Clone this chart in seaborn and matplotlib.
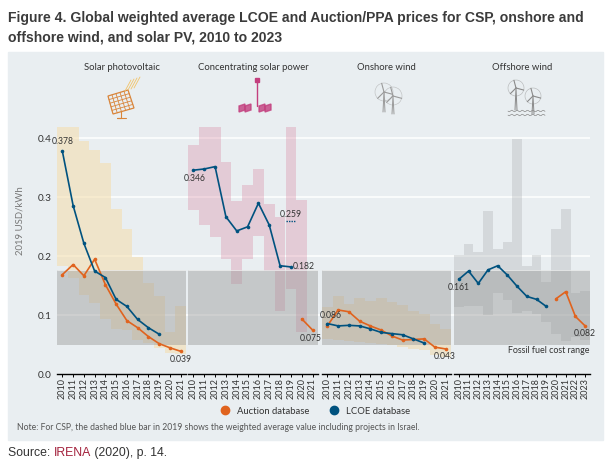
import numpy as np
import pandas as pd
import matplotlib
matplotlib.use("Agg")
import matplotlib.pyplot as plt
import seaborn as sns
from matplotlib.patches import Rectangle, Polygon
from matplotlib.lines import Line2D

sns.set_style("white")
plt.rcParams['font.family'] = ['Lato', 'DejaVu Sans']

W, H = 610, 463

# Daten (2019 USD/kWh)
nan = np.nan
pv_years = list(range(2010, 2022))
pv_lcoe = [0.378, 0.286, 0.222, 0.175, 0.164, 0.127, 0.115, 0.093, 0.079, 0.068]
pv_auction = [0.169, 0.186, 0.167, 0.195, 0.152, 0.119, 0.091, 0.079, 0.064, 0.052, 0.045, 0.039]
pv_hi = [0.419, 0.419, 0.396, 0.380, 0.358, 0.280, 0.247, 0.199, 0.154, 0.132, 0.071, 0.115]
pv_lo = [0.183, 0.163, 0.134, 0.121, 0.094, 0.077, 0.075, 0.058, 0.053, 0.044, 0.036, 0.034]

csp_years = list(range(2010, 2022))
csp_lcoe = [0.346, 0.348, 0.352, 0.267, 0.243, 0.250, 0.290, 0.253, 0.184, 0.182]
csp_auction = [0.094, 0.075]          # 2020, 2021
csp_israel_2019 = 0.259
csp_hi = [0.389, 0.419, 0.419, 0.359, 0.293, 0.321, 0.348, 0.289, 0.267, 0.419, 0.296, nan]
csp_lo = [0.278, 0.253, 0.233, 0.195, 0.153, 0.195, 0.235, 0.175, 0.107, 0.144, 0.072, nan]

on_years = list(range(2010, 2022))
on_lcoe = [0.086, 0.082, 0.083, 0.082, 0.077, 0.071, 0.069, 0.067, 0.060, 0.053]
on_auction = [0.082, 0.109, 0.106, 0.090, 0.082, 0.075, 0.065, 0.058, 0.059, 0.060, 0.046, 0.043]
on_hi = [0.114, 0.133, 0.120, 0.129, 0.125, 0.130, 0.123, 0.118, 0.108, 0.103, 0.085, 0.076]
on_lo = [0.060, 0.058, 0.057, 0.055, 0.053, 0.051, 0.049, 0.047, 0.043, 0.041, 0.032, 0.029]

off_years = list(range(2010, 2024))
off_lcoe = [0.161, 0.175, 0.154, 0.177, 0.184, 0.168, 0.149, 0.132, 0.127, 0.115]
off_auction = [0.128, 0.140, 0.098, 0.082]   # 2020-2023
off_hi = [0.203, 0.221, 0.208, 0.276, 0.213, 0.225, 0.399, 0.184, 0.202, 0.156, 0.246, 0.280, 0.137, 0.141]
off_lo = [0.114, 0.115, 0.115, 0.101, 0.138, 0.126, 0.104, 0.108, 0.103, 0.089, 0.068, 0.056, 0.064, 0.058]

fossil_range = (0.05, 0.177)
titles = ["Solar photovoltaic", "Concentrating solar power", "Onshore wind", "Offshore wind"]

BLUE = "#00527f"
ORANGE = "#e0631e"
TXT = "#333333"


def fx(px):
    return px / W


def fy(py):
    return 1 - py / H


fig = plt.figure(figsize=(6.1, 4.63), dpi=100)
fig.patch.set_facecolor("white")

# grauer Hintergrundkasten
fig.patches.append(Rectangle((fx(8), fy(440)), (603 - 8) / W, (440 - 52) / H,
                             transform=fig.transFigure, color="#e9eef1", zorder=-5))

y0, y1 = 374.3, 114.7    # pixel fuer 0 und 0.44
ymax = 0.44

# Gitterlinien ueber alle Paneele
bg = fig.add_axes([fx(57), fy(y0), (590 - 57) / W, (y0 - y1) / H], zorder=-1)
bg.set_xlim(0, 1)
bg.set_ylim(0, ymax)
bg.axis("off")
for v in [0.1, 0.2, 0.3, 0.4]:
    bg.axhline(v, color="white", lw=1.1)

panels = [
    dict(x=(57, 186), years=pv_years, hi=pv_hi, lo=pv_lo, band="#f5dcaa", alpha=0.55,
         lcoe=pv_lcoe, auc=pv_auction, auc0=0),
    dict(x=(188, 318), years=csp_years, hi=csp_hi, lo=csp_lo, band="#d8829f", alpha=0.32,
         lcoe=csp_lcoe, auc=csp_auction, auc0=10),
    dict(x=(322, 451), years=on_years, hi=on_hi, lo=on_lo, band="#f0d49c", alpha=0.45,
         lcoe=on_lcoe, auc=on_auction, auc0=0),
    dict(x=(454, 590), years=off_years, hi=off_hi, lo=off_lo, band="#a8abae", alpha=0.32,
         lcoe=off_lcoe, auc=off_auction, auc0=10),
]

axes = []
for i, p in enumerate(panels):
    xa, xb = p["x"]
    ax = fig.add_axes([fx(xa), fy(y0), (xb - xa) / W, (y0 - y1) / H])
    ax.set_facecolor("none")
    n = len(p["years"])
    idx = np.arange(n)
    hi = np.array(p["hi"])
    lo = np.array(p["lo"])
    ax.bar(idx, hi - lo, bottom=lo, width=1.0, color=p["band"], alpha=p["alpha"], lw=0, zorder=1)
    ax.axhspan(fossil_range[0], fossil_range[1], color="#9a9a9a", alpha=0.45, lw=0, zorder=2)
    ax.axhline(fossil_range[1], color="white", lw=0.7, alpha=0.6, zorder=2.1)

    lx = idx[:len(p["lcoe"])]
    sns.lineplot(x=lx, y=p["lcoe"], ax=ax, color=BLUE, lw=1.2, marker="o", markersize=2.6,
                 markeredgewidth=0, zorder=4)
    ax_ = idx[p["auc0"]:p["auc0"] + len(p["auc"])]
    sns.lineplot(x=ax_, y=p["auc"], ax=ax, color=ORANGE, lw=1.2, marker="o", markersize=2.6,
                 markeredgewidth=0, zorder=3)

    ax.set_xlim(-0.5, n - 0.5)
    ax.set_ylim(0, ymax)
    ax.set_xticks(idx)
    ax.set_xticklabels(p["years"], rotation=90, fontsize=6.5, color=TXT)
    ax.tick_params(axis="x", length=2, width=0.7, pad=1, color="black", bottom=True)
    ax.set_yticks([0, 0.1, 0.2, 0.3, 0.4])
    if i == 0:
        ax.set_yticklabels(["0.0", "0.1", "0.2", "0.3", "0.4"], fontsize=7.2, color=TXT)
        ax.tick_params(axis="y", length=0, pad=4)
    else:
        ax.tick_params(axis="y", left=False, labelleft=False)
    for s in ["top", "right", "left"]:
        ax.spines[s].set_visible(False)
    ax.spines["bottom"].set_color("black")
    ax.spines["bottom"].set_linewidth(1.0)
    ax.set_xlabel("")
    ax.set_ylabel("")
    fig.text(fx((xa + xb) / 2), fy(68), titles[i], ha="center", va="center",
             fontsize=6.8, color=TXT)
    axes.append(ax)

# Wertebeschriftungen
lab = dict(fontsize=6.2, color=TXT, textcoords="offset points")
axes[0].annotate("0.378", (0, 0.378), xytext=(0, 4), ha="center", va="bottom", **lab)
axes[0].annotate("0.039", (11, 0.039), xytext=(0, -3), ha="center", va="top", **lab)
axes[1].annotate("0.346", (0, 0.346), xytext=(1, -2.5), ha="center", va="top", **lab)
axes[1].annotate("0.182", (9, 0.182), xytext=(1.5, 0), ha="left", va="center", **lab)
axes[1].annotate("0.075", (11, 0.075), xytext=(-1, -2.5), ha="center", va="top", **lab)
axes[1].hlines(csp_israel_2019, 9 - 0.45, 9 + 0.45, color=BLUE, lw=1.0, linestyles=(0, (1, 0.8)), zorder=4)
axes[1].annotate("0.259", (9, csp_israel_2019), xytext=(0, 2), ha="center", va="bottom", **lab)
axes[2].annotate("0.086", (0, 0.086), xytext=(2.5, 2.5), ha="center", va="bottom", **lab)
axes[2].annotate("0.043", (11, 0.043), xytext=(-1, -2.5), ha="center", va="top", **lab)
axes[3].annotate("0.161", (0, 0.161), xytext=(0, -2.5), ha="center", va="top", **lab)
axes[3].annotate("0.082", (13, 0.082), xytext=(0, -2.5), ha="center", va="top", **lab)
axes[3].text(13.4, 0.041, "Fossil fuel cost range", ha="right", va="center", fontsize=6.4, color=TXT)

fig.text(fx(20), fy(221), "2019 USD/kWh", rotation=90, ha="center", va="center",
         fontsize=6.9, color="#777777")


# einfache Symbole ueber den Paneelen
def icon_ax(xa, ya, xb, yb):
    a = fig.add_axes([fx(xa), fy(yb), (xb - xa) / W, (yb - ya) / H])
    a.set_xlim(xa, xb)
    a.set_ylim(yb, ya)
    a.axis("off")
    return a


def turbine(a, x, ybase, ytop, r, c):
    a.plot([x - 1, x, x + 1], [ybase, ytop, ybase], color=c, lw=0.7)
    for ang in [90, 210, 330]:
        t = np.deg2rad(ang + 15)
        a.plot([x, x + r * np.cos(t)], [ytop, ytop - r * np.sin(t)], color=c, lw=0.8)
    a.add_patch(plt.Circle((x, ytop), r, fill=False, color=c, lw=0.4, alpha=0.6))


a = icon_ax(104, 76, 142, 122)
c = "#d9853b"
corners = np.array([[108, 96], [128, 90], [134, 108], [113, 114]])
a.add_patch(Polygon(corners, closed=True, fill=False, edgecolor=c, lw=0.9))
for k in range(1, 5):
    t = k / 5
    p1 = corners[0] + t * (corners[1] - corners[0])
    p2 = corners[3] + t * (corners[2] - corners[3])
    a.plot([p1[0], p2[0]], [p1[1], p2[1]], color=c, lw=0.6)
    p1 = corners[0] + t * (corners[3] - corners[0])
    p2 = corners[1] + t * (corners[2] - corners[1])
    a.plot([p1[0], p2[0]], [p1[1], p2[1]], color=c, lw=0.6)
a.plot([121, 121, 117, 126], [111, 118, 118, 118], color=c, lw=0.8)
for k in range(4):
    a.plot([125 + 3 * k, 131 + 3 * k], [91 - k, 80 - k], color="#f2c46a", lw=0.6)

a = icon_ax(236, 76, 278, 118)
c = "#c33f7e"
a.plot([257, 257], [82, 106], color=c, lw=1.0)
a.add_patch(Rectangle((255, 78), 4, 4, color=c))
for xm in [242, 248, 262, 268]:
    a.add_patch(Polygon([[xm - 3, 106], [xm + 3, 104], [xm + 3, 110], [xm - 3, 112]], color=c, alpha=0.8))

a = icon_ax(370, 76, 410, 118)
turbine(a, 384, 112, 92, 9, "#9a9a9a")
turbine(a, 393, 114, 96, 9, "#9a9a9a")

a = icon_ax(505, 76, 550, 120)
turbine(a, 516, 110, 88, 8, "#8a8a8a")
turbine(a, 533, 114, 96, 8, "#8a8a8a")
for yy in [111, 115]:
    xs = np.linspace(508, 545, 30)
    a.plot(xs, yy + 0.8 * np.sin(xs * 1.2), color="#8a8a8a", lw=0.5)

# Legende
handles = [Line2D([], [], marker="o", ls="", color=ORANGE, markersize=6),
           Line2D([], [], marker="o", ls="", color=BLUE, markersize=6)]
fig.legend(handles, ["Auction database", "LCOE database"], loc="center",
           bbox_to_anchor=(fx(313), fy(411)), ncol=2, frameon=False, fontsize=6.8,
           handletextpad=0.3, columnspacing=1.6, labelcolor=TXT)

fig.text(fx(17), fy(427), "Note: For CSP, the dashed blue bar in 2019 shows the weighted average value "
         "including projects in Israel.", fontsize=6.2, color="#555555", va="center")

# Titel
tfont = dict(fontsize=10.1, fontweight="bold", family="Liberation Sans", color="#3b3b3b", va="center")
fig.text(fx(8), fy(18), "Figure 4. Global weighted average LCOE and Auction/PPA prices for CSP, onshore and", **tfont)
fig.text(fx(8), fy(37), "offshore wind, and solar PV, 2010 to 2023", **tfont)

# Quelle
sfont = dict(fontsize=8.8, family="Liberation Sans", va="center")
fig.canvas.draw()
r = fig.canvas.get_renderer()
x = fx(8)
for part, col in [("Source: ", "#333333"), ("IRENA", "#a3213c"), (" (2020), p. 14.", "#333333")]:
    t = fig.text(x, fy(453), part, color=col, **sfont)
    bb = t.get_window_extent(renderer=r)
    x = bb.x1 / fig.bbox.width

fig.savefig("out.png", dpi=100)
